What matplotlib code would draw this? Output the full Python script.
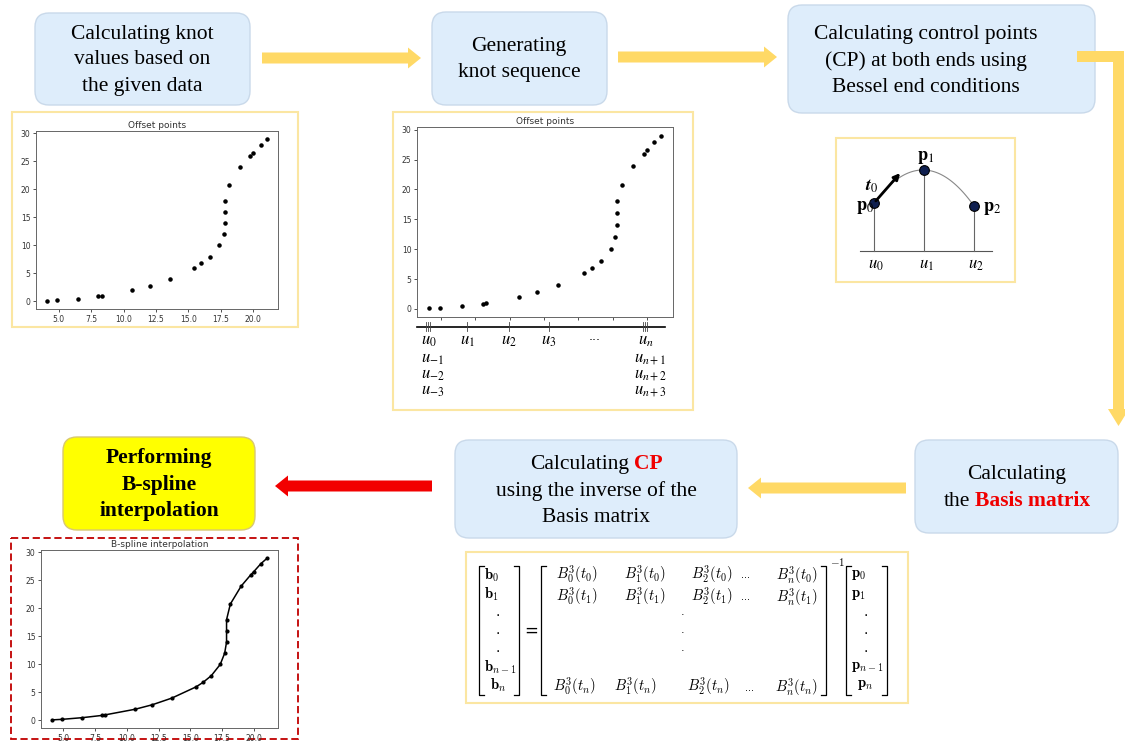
import matplotlib.pyplot as plt
import numpy as np
from matplotlib.patches import FancyBboxPatch, Rectangle, FancyArrow, Polygon

plt.rcParams['mathtext.fontset'] = 'stix'

# offset points
pts_x = [4.1, 4.9, 6.5, 8.05, 8.3, 10.65, 12.0, 13.55, 15.45, 16.0, 16.65,
         17.35, 17.7, 17.85, 17.85, 17.85, 18.15, 19.0, 19.75, 20.0, 20.55, 21.05]
pts_y = [0.1, 0.2, 0.5, 0.9, 1.0, 2.0, 2.8, 4.0, 6.0, 6.8, 8.0,
         10.0, 12.0, 14.0, 16.0, 18.0, 20.8, 24.0, 26.0, 26.6, 28.0, 29.0]

top_texts = [["Calculating knot", "values based on", "the given data"],
             ["Generating", "knot sequence"],
             ["Calculating control points", "(CP) at both ends using", "Bessel end conditions"]]

W, H = 1125, 741
fig = plt.figure(figsize=(W / 100, H / 100), dpi=100)
ax = fig.add_axes([0, 0, 1, 1])
ax.set_xlim(0, W)
ax.set_ylim(H, 0)
ax.axis('off')

SERIF = 'Liberation Serif'
BLUE_FC, BLUE_EC = '#deedfb', '#c9d9ea'
GOLD = '#ffd966'
PANEL_EC = '#fbe6a2'
RED = '#f00000'


def box(x0, y0, x1, y1, fc, ec, r=14):
    ax.add_patch(FancyBboxPatch((x0 + r, y0 + r), x1 - x0 - 2 * r, y1 - y0 - 2 * r,
                                boxstyle=f'round,pad={r}', fc=fc, ec=ec, lw=1))


def arrow(x0, x1, y, color):
    ax.add_patch(FancyArrow(x0, y, x1 - x0, 0, width=11, head_width=21, head_length=13,
                            length_includes_head=True, fc=color, ec='none'))


def rich_line(cx, y, pieces, size=15.5, gap=5):
    r = fig.canvas.get_renderer()
    ts = [ax.text(0, y, s, fontsize=size, family=SERIF, ha='left', va='center', **kw)
          for s, kw in pieces]
    ws = [t.get_window_extent(r).width for t in ts]
    x = cx - (sum(ws) + gap * (len(ws) - 1)) / 2
    for t, w in zip(ts, ws):
        t.set_x(x)
        x += w + gap


def lines(cx, ys, texts, **kw):
    for y, s in zip(ys, texts):
        rich_line(cx, y, [(s, kw)])


def inset(l, t, r, b):
    a = fig.add_axes([l / W, 1 - b / H, (r - l) / W, (b - t) / H])
    a.tick_params(labelsize=5.5, length=2.5, width=0.6, pad=1.5, colors='#333333')
    for s in a.spines.values():
        s.set_color('#666666')
        s.set_linewidth(0.7)
    return a


# ---- top row boxes and arrows
box(35, 13, 250, 105, BLUE_FC, BLUE_EC)
box(432, 12, 607, 105, BLUE_FC, BLUE_EC)
box(788, 5, 1095, 113, BLUE_FC, BLUE_EC)
lines(142, [34, 60, 86], top_texts[0])
lines(519, [46, 72], top_texts[1])
lines(926, [35, 61, 87], top_texts[2])
arrow(262, 421, 58, GOLD)
arrow(618, 777, 57, GOLD)
ax.add_patch(Polygon([(1077, 51), (1124, 51), (1124, 409), (1129, 409), (1118.5, 426),
                      (1108, 409), (1113, 409), (1113, 62), (1077, 62)], closed=True, fc=GOLD, ec='none'))

# ---- bottom row boxes and arrows
box(915, 440, 1118, 533, BLUE_FC, BLUE_EC)
box(455, 440, 737, 538, BLUE_FC, BLUE_EC)
box(63, 437, 255, 530, '#ffff00', '#d8c870')
arrow(906, 748, 488, GOLD)
arrow(432, 275, 486, '#f20000')
rich_line(596, 464, [("Calculating", {}), ("CP", dict(color=RED, fontweight='bold'))])
rich_line(596, 491, [("using the inverse of the", {})])
rich_line(596, 517, [("Basis matrix", {})])
rich_line(1017, 475, [("Calculating", {})])
rich_line(1017, 501, [("the", {}), ("Basis matrix", dict(color=RED, fontweight='bold'))])
lines(159, [458, 485, 511], ["Performing", "B-spline", "interpolation"], fontweight='bold')

# ---- panel frames
ax.add_patch(Rectangle((12, 112), 286, 215, fc='none', ec=PANEL_EC, lw=1.5))
ax.add_patch(Rectangle((393, 112), 300, 298, fc='none', ec=PANEL_EC, lw=1.5))
ax.add_patch(Rectangle((836, 138), 179, 144, fc='none', ec=PANEL_EC, lw=1.5))
ax.add_patch(Rectangle((466, 552), 442, 151, fc='none', ec=PANEL_EC, lw=1.5))
ax.add_patch(Rectangle((11, 538), 287, 201, fc='none', ec='#c00000', lw=1.3, ls=(0, (4, 2))))

# ---- panel 1: offset points
a1 = inset(36, 131, 278, 309)
a1.scatter(pts_x, pts_y, s=5, c='black')
a1.set_title('Offset points', fontsize=6.5, pad=2, color='#333333')
a1.set_yticks(range(0, 31, 5))

# ---- panel 2: offset points with knot sequence
a2 = inset(417, 127, 673, 317)
a2.scatter(pts_x, pts_y, s=5, c='black')
a2.set_title('Offset points', fontsize=6.5, pad=2, color='#333333')
a2.set_yticks(range(0, 31, 5))
a2.set_xticklabels([])

ax.plot([417, 665], [327, 327], color='black', lw=1.2)
for kx in [426, 428, 430, 467, 509, 549, 643, 645, 647]:
    ax.plot([kx, kx], [322, 331], color='#444444', lw=0.6)
ms = 12
ax.text(421, 340, '$u_0$', fontsize=ms, ha='left', va='center')
for i, lab in enumerate(['$u_{-1}$', '$u_{-2}$', '$u_{-3}$']):
    ax.text(421, 358 + 16 * i, lab, fontsize=ms, ha='left', va='center')
ax.text(467, 340, '$u_1$', fontsize=ms, ha='center', va='center')
ax.text(509, 340, '$u_2$', fontsize=ms, ha='center', va='center')
ax.text(549, 340, '$u_3$', fontsize=ms, ha='center', va='center')
ax.text(595, 337, '...', fontsize=9, ha='center', va='center')
ax.text(646, 340, '$u_n$', fontsize=ms, ha='center', va='center')
for i, lab in enumerate(['$u_{n+1}$', '$u_{n+2}$', '$u_{n+3}$']):
    ax.text(634, 358 + 16 * i, lab, fontsize=ms, ha='left', va='center')

# ---- panel 3: Bessel end condition sketch
kn = [874, 924, 974]
py = [203, 170, 206]
ax.plot([860, 992], [251, 251], color='#555555', lw=0.8)
for kx, ky in zip(kn, py):
    ax.plot([kx, kx], [ky, 251], color='#666666', lw=0.8)
coef = np.polyfit(kn, py, 2)
xs = np.linspace(kn[0], kn[-1], 80)
ax.plot(xs, np.polyval(coef, xs), color='#888888', lw=0.8)
ax.annotate('', xy=(902, 171), xytext=(874, 203),
            arrowprops=dict(arrowstyle='-|>', lw=2, color='black', mutation_scale=9))
ax.plot(kn, py, 'o', ms=7, mfc='#0f1f4f', mec='black', mew=0.8)
ax.text(865, 207, r'$\mathbf{p}_0$', fontsize=13, ha='center', va='center')
ax.text(926, 157, r'$\mathbf{p}_1$', fontsize=13, ha='center', va='center')
ax.text(992, 208, r'$\mathbf{p}_2$', fontsize=13, ha='center', va='center')
ax.text(872, 186, r'$\mathbfit{t}_0$', fontsize=13, ha='center', va='center')
for kx, lab in zip(kn, ['$u_0$', '$u_1$', '$u_2$']):
    ax.text(kx + 2, 264, lab, fontsize=12, ha='center', va='center')

# ---- panel 4: B-spline interpolation
a4 = inset(41, 550, 278, 728)
a4.plot(pts_x, pts_y, '-o', color='black', lw=1.1, ms=2)
a4.set_title('B-spline interpolation', fontsize=6.5, pad=2, color='#333333')
a4.set_yticks(range(0, 31, 5))

# ---- panel 5: matrix equation
mk = dict(fontsize=10.5, math_fontfamily='cm', va='center')


def bracket(x, top, bot, side):
    d = 5 if side == 'l' else -5
    ax.plot([x + d, x, x, x + d], [top, top, bot, bot], color='black', lw=0.9)


bracket(479, 566, 695, 'l')
bracket(519, 566, 695, 'r')
bracket(541, 566, 695, 'l')
bracket(826, 566, 695, 'r')
bracket(846, 566, 695, 'l')
bracket(887, 566, 695, 'r')

ax.text(484, 575, r'$\mathbf{b}_0$', ha='left', **mk)
ax.text(484, 594, r'$\mathbf{b}_1$', ha='left', **mk)
ax.text(484, 667, r'$\mathbf{b}_{n-1}$', ha='left', **mk)
ax.text(490, 685, r'$\mathbf{b}_n$', ha='left', **mk)
ax.text(851, 575, r'$\mathbf{p}_0$', ha='left', **mk)
ax.text(851, 594, r'$\mathbf{p}_1$', ha='left', **mk)
ax.text(851, 666, r'$\mathbf{p}_{n-1}$', ha='left', **mk)
ax.text(857, 685, r'$\mathbf{p}_n$', ha='left', **mk)
for dy in [612, 630, 648]:
    ax.text(498, dy, '.', ha='center', fontsize=10, va='center')
    ax.text(866, dy, '.', ha='center', fontsize=10, va='center')
    ax.text(683, dy, '.', ha='center', fontsize=8, va='center')
ax.text(531, 631, '=', ha='center', fontsize=12, va='center')
ax.text(830, 562, r'$-1$', ha='left', fontsize=8, math_fontfamily='cm', va='center')

cols = [577, 645, 712, 797]
for row, ty in [('0', 575), ('1', 597)]:
    for c, cx in zip(['0', '1', '2', 'n'], cols):
        ax.text(cx, ty, rf'$B_{c}^3(t_{row})$', ha='center', **mk)
    ax.text(745, ty, '...', ha='center', fontsize=7, va='center')
for c, cx in zip(['0', '1', '2', 'n'], [575, 636, 709, 797]):
    ax.text(cx, 687, rf'$B_{c}^3(t_n)$', ha='center', **mk)
ax.text(750, 688, '...', ha='center', fontsize=7, va='center')

fig.savefig('out.png', dpi=100)
